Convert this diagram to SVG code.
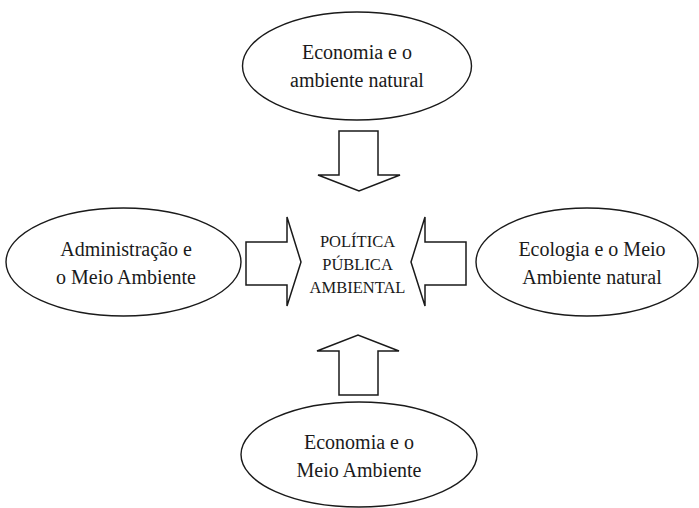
<svg xmlns="http://www.w3.org/2000/svg" width="699" height="508" viewBox="0 0 699 508">
<style>
.bg{fill:#ffffff}
.node ellipse{fill:#ffffff;stroke:#1a1a1a;stroke-width:1.4}
.arrow{fill:#ffffff;stroke:#1a1a1a;stroke-width:1.5;stroke-linejoin:miter}
text{font-family:"Liberation Serif","Times New Roman",serif;fill:#1a1a1a;text-anchor:middle}
.lbl{font-size:20px}
.ctr{font-size:16.5px}
</style>
<rect class="bg" x="0" y="0" width="699" height="508"/>
<g id="connectors">
<polygon class="arrow" points="339,131 378,131 378,175 400,175 359,191 318,175 339,175"/>
<polygon class="arrow" points="339,395 378,395 378,351 399,351 358,335 317,351 339,351"/>
<polygon class="arrow" points="246,242 287,242 287,217 301,262 287,306 287,285 246,285"/>
<polygon class="arrow" points="466,242 425,242 425,217 411,262 425,306 425,285 466,285"/>
</g>
<g id="node-top" class="node">
<ellipse cx="357" cy="66" rx="114.5" ry="54"/>
<text class="lbl" x="357" y="59">Economia e o</text>
<text class="lbl" x="357" y="87">ambiente natural</text>
</g>
<g id="node-left" class="node">
<ellipse cx="123.5" cy="262" rx="117.5" ry="54"/>
<text class="lbl" x="126" y="256">Administração e</text>
<text class="lbl" x="126" y="284">o Meio Ambiente</text>
</g>
<g id="node-right" class="node">
<ellipse cx="587" cy="262" rx="111" ry="54"/>
<text class="lbl" x="592" y="256">Ecologia e o Meio</text>
<text class="lbl" x="592" y="284">Ambiente natural</text>
</g>
<g id="node-bottom" class="node">
<ellipse cx="359" cy="454.5" rx="118" ry="52.5"/>
<text class="lbl" x="359" y="449">Economia e o</text>
<text class="lbl" x="359" y="477">Meio Ambiente</text>
</g>
<g id="node-center">
<text class="ctr" x="357.5" y="247">POLÍTICA</text>
<text class="ctr" x="357.5" y="270">PÚBLICA</text>
<text class="ctr" x="357.5" y="293">AMBIENTAL</text>
</g>
</svg>
